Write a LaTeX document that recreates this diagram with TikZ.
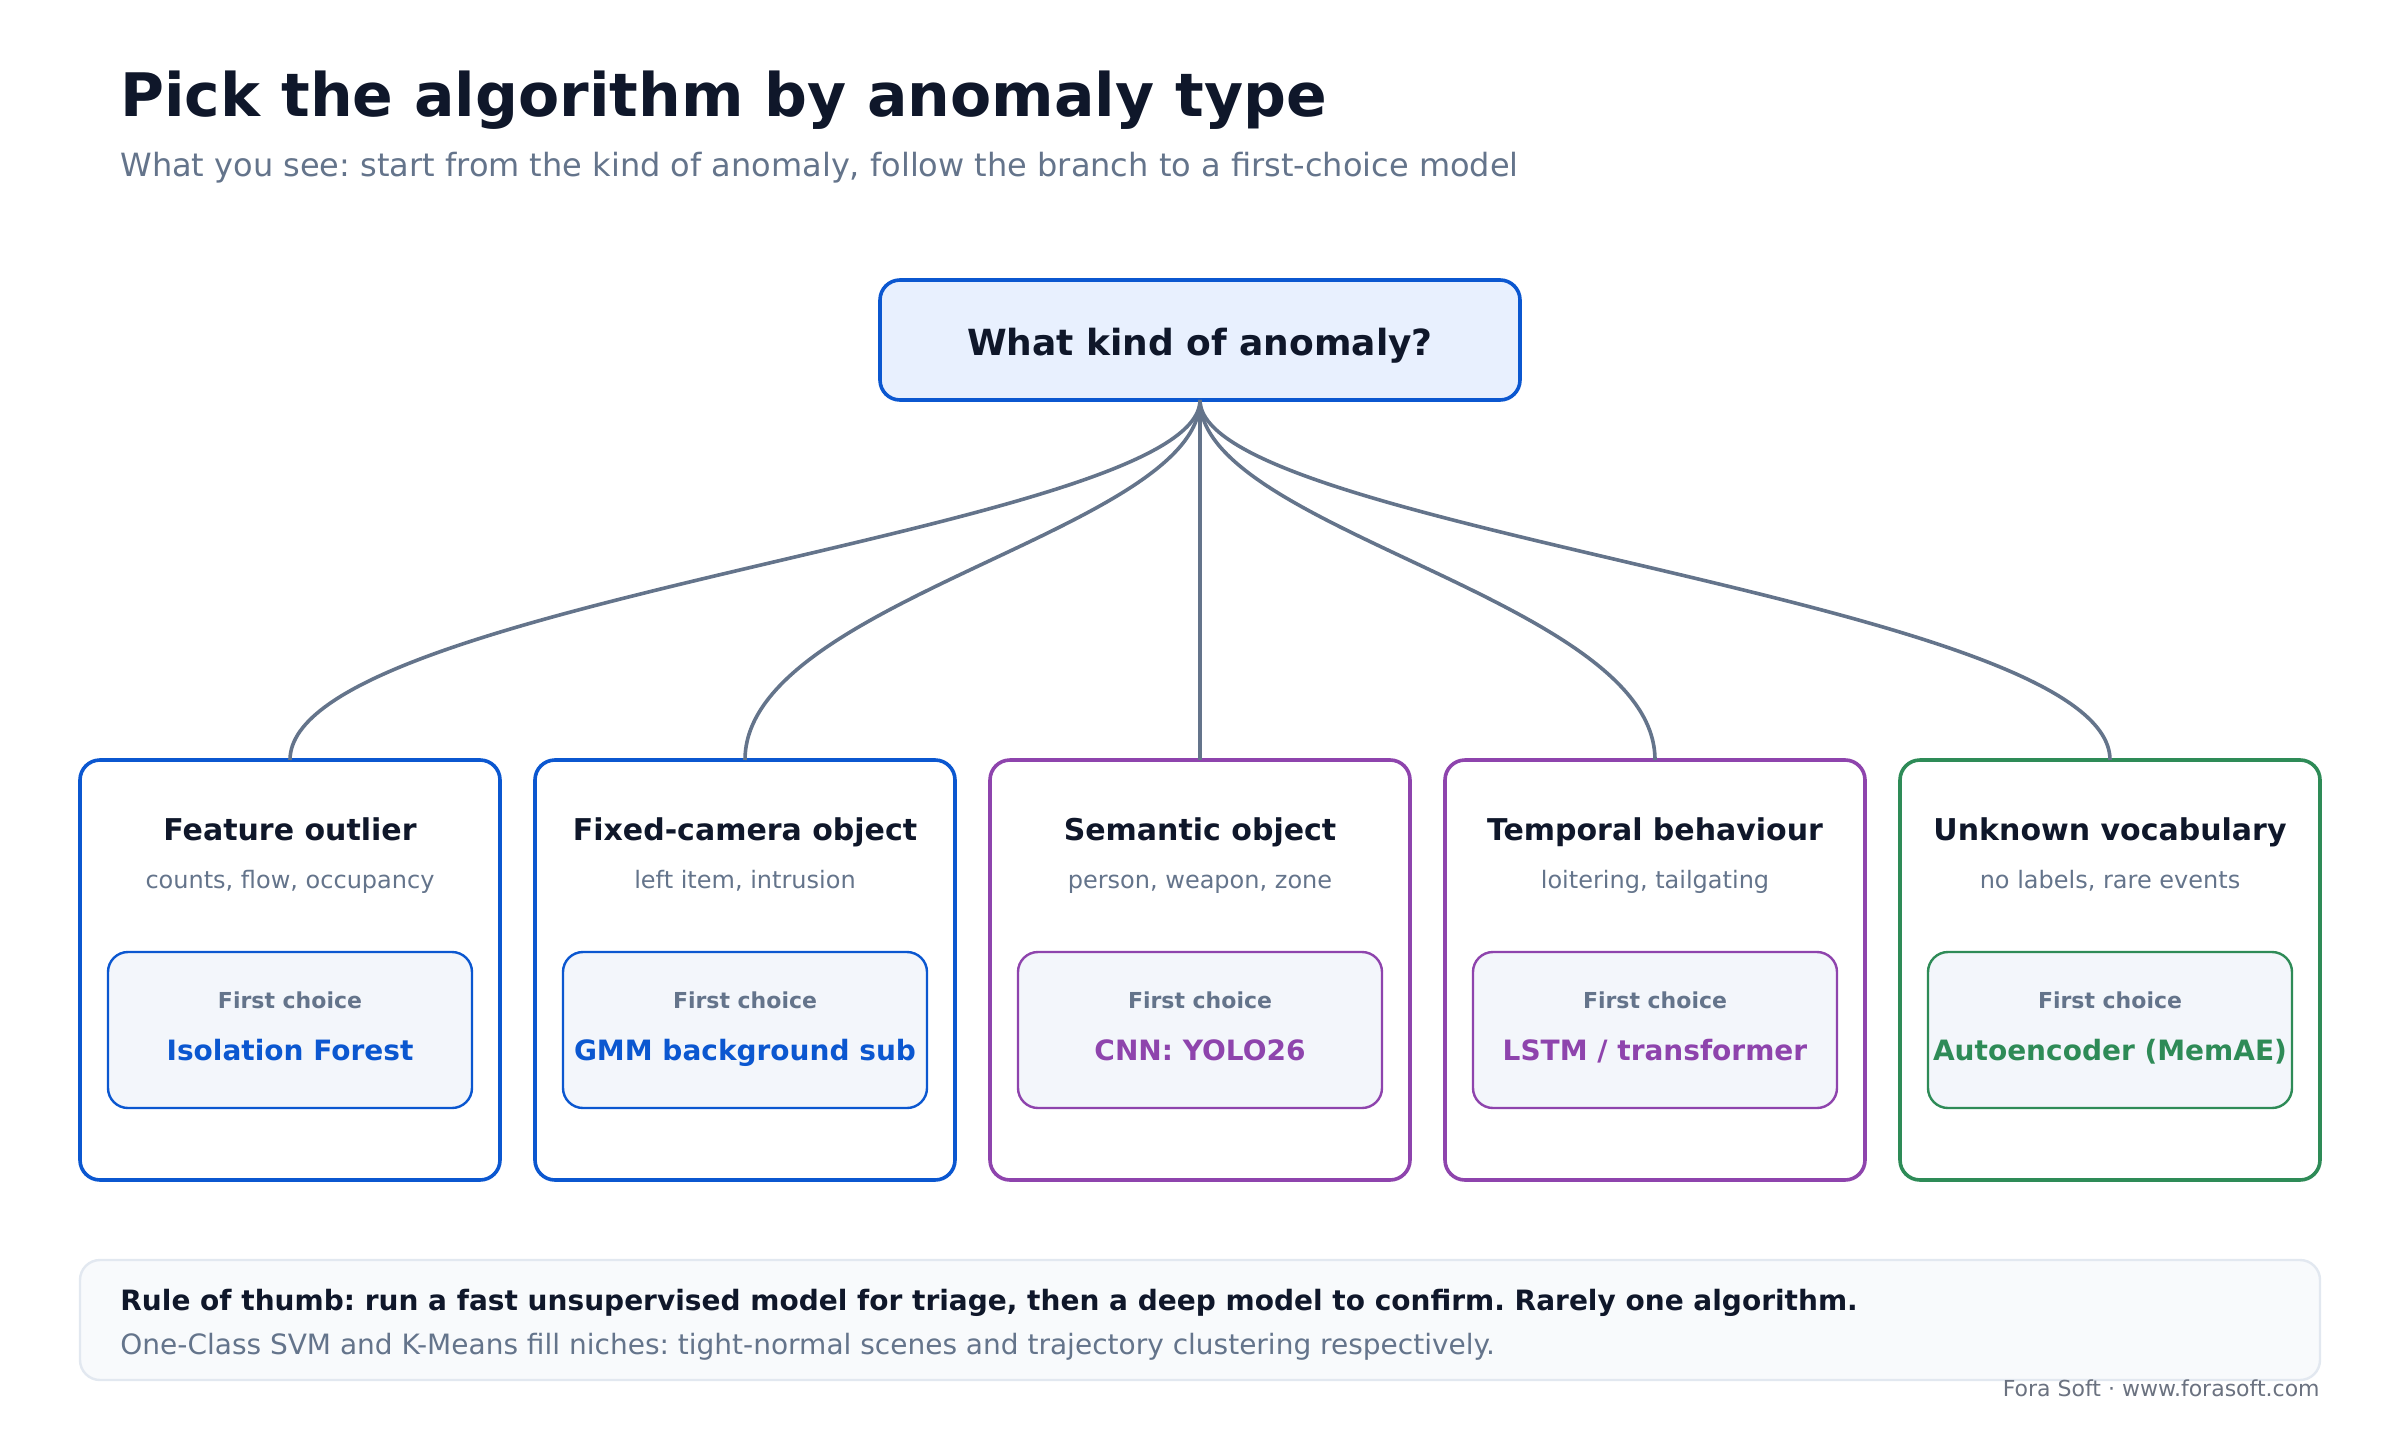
\documentclass[tikz,border=0pt]{standalone}
\usepackage{fontspec}
\setmainfont{DejaVu Sans}
\frenchspacing
\definecolor{ink}{HTML}{0F172A}
\definecolor{slate}{HTML}{64748B}
\definecolor{accblue}{HTML}{0B57D0}
\definecolor{accpurple}{HTML}{8E44AD}
\definecolor{accgreen}{HTML}{2E8B57}
\definecolor{rootbg}{HTML}{E8F0FE}
\definecolor{pickbg}{HTML}{F3F6FB}
\definecolor{notebg}{HTML}{F8FAFC}
\definecolor{noteline}{HTML}{E2E8F0}
\definecolor{footgray}{HTML}{6B7280}
\begin{document}
\begin{tikzpicture}[x=1pt, y=-1pt,
  card/.style={draw=#1, line width=1.8pt, rounded corners=10pt, fill=white,
    minimum width=210pt, minimum height=210pt, inner sep=0pt, outer sep=0pt},
  pick/.style={draw=#1, line width=1.2pt, rounded corners=10pt, fill=pickbg,
    minimum width=182pt, minimum height=78pt, inner sep=0pt, outer sep=0pt},
  head/.style={anchor=base, inner sep=0pt, text=ink, font=\bfseries\fontsize{15}{18}\selectfont},
  hint/.style={anchor=base, inner sep=0pt, text=slate, font=\fontsize{12}{14}\selectfont},
  tag/.style={anchor=base, inner sep=0pt, text=slate, font=\bfseries\fontsize{11}{13}\selectfont},
  model/.style={anchor=base, inner sep=0pt, text=#1, font=\bfseries\fontsize{14}{17}\selectfont},
  wire/.style={draw=slate, line width=1.8pt}]

  \useasboundingbox[fill=white] (0,0) rectangle (1200,720);

  % Heading
  \node[anchor=base west, inner sep=0pt, text=ink, font=\bfseries\fontsize{30}{36}\selectfont]
    (title) at (60,58) {Pick the algorithm by anomaly type};
  \node[anchor=base west, inner sep=0pt, text=slate, font=\fontsize{16}{19}\selectfont]
    (subtitle) at (60,88) {What you see: start from the kind of anomaly, follow the branch to a first-choice model};

  % Question
  \node[draw=accblue, line width=1.8pt, rounded corners=10pt, fill=rootbg, outer sep=0pt,
    minimum width=320pt, minimum height=60pt, inner sep=0pt] (q) at (600,170) {};
  \node[anchor=base, inner sep=0pt, text=ink, font=\bfseries\fontsize{18}{22}\selectfont]
    (qtext) at (600,177.5) {What kind of anomaly?};

  % Feature outlier
  \node[card=accblue] (feat) at (145,485) {};
  \node[head] (featT) at (145,420) {Feature outlier};
  \node[hint] (featS) at (145,444) {counts, flow, occupancy};
  \node[pick=accblue] (featP) at (145,515) {};
  \node[tag] (featC) at (145,504) {First choice};
  \node[model=accblue] (featM) at (145,530) {Isolation Forest};

  % Fixed-camera object
  \node[card=accblue] (fixed) at (372.5,485) {};
  \node[head] (fixedT) at (372.5,420) {Fixed-camera object};
  \node[hint] (fixedS) at (372.5,444) {left item, intrusion};
  \node[pick=accblue] (fixedP) at (372.5,515) {};
  \node[tag] (fixedC) at (372.5,504) {First choice};
  \node[model=accblue] (fixedM) at (372.5,530) {GMM background sub};

  % Semantic object
  \node[card=accpurple] (sem) at (600,485) {};
  \node[head] (semT) at (600,420) {Semantic object};
  \node[hint] (semS) at (600,444) {person, weapon, zone};
  \node[pick=accpurple] (semP) at (600,515) {};
  \node[tag] (semC) at (600,504) {First choice};
  \node[model=accpurple] (semM) at (600,530) {CNN: YOLO26};

  % Temporal behaviour
  \node[card=accpurple] (temp) at (827.5,485) {};
  \node[head] (tempT) at (827.5,420) {Temporal behaviour};
  \node[hint] (tempS) at (827.5,444) {loitering, tailgating};
  \node[pick=accpurple] (tempP) at (827.5,515) {};
  \node[tag] (tempC) at (827.5,504) {First choice};
  \node[model=accpurple] (tempM) at (827.5,530) {LSTM / transformer};

  % Unknown vocabulary
  \node[card=accgreen] (unk) at (1055,485) {};
  \node[head] (unkT) at (1055,420) {Unknown vocabulary};
  \node[hint] (unkS) at (1055,444) {no labels, rare events};
  \node[pick=accgreen] (unkP) at (1055,515) {};
  \node[tag] (unkC) at (1055,504) {First choice};
  \node[model=accgreen] (unkM) at (1055,530) {Autoencoder (MemAE)};

  % Branches
  \draw[wire] (q.south) .. controls +(0,65) and +(0,-80) .. (feat.north);
  \draw[wire] (q.south) .. controls +(0,65) and +(0,-80) .. (fixed.north);
  \draw[wire] (q.south) -- (sem.north);
  \draw[wire] (q.south) .. controls +(0,65) and +(0,-80) .. (temp.north);
  \draw[wire] (q.south) .. controls +(0,65) and +(0,-80) .. (unk.north);

  % Note
  \node[draw=noteline, line width=1.2pt, rounded corners=10pt, fill=notebg, inner sep=0pt,
    minimum width=1120pt, minimum height=60pt] (note) at (600,660) {};
  \node[anchor=base west, inner sep=0pt, text=ink, font=\bfseries\fontsize{14}{17}\selectfont]
    (noteA) at (60,655) {Rule of thumb: run a fast unsupervised model for triage, then a deep model to confirm. Rarely one algorithm.};
  \node[anchor=base west, inner sep=0pt, text=slate, font=\fontsize{14}{17}\selectfont]
    (noteB) at (60,677) {One-Class SVM and K-Means fill niches: tight-normal scenes and trajectory clustering respectively.};

  % Footer
  \node[anchor=base east, inner sep=0pt, text=footgray, font=\fontsize{11}{13}\selectfont]
    (foot) at (1160,698) {Fora Soft · www.forasoft.com};
\end{tikzpicture}
\end{document}
